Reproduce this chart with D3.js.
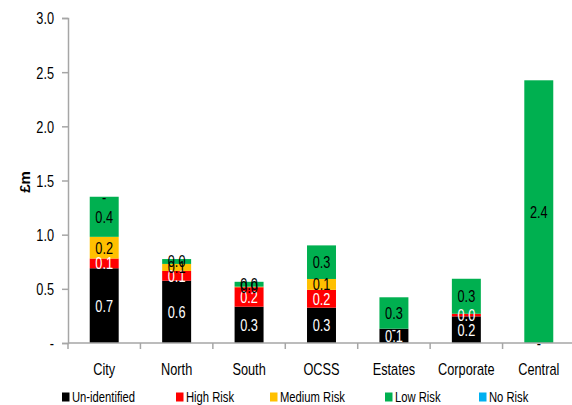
<!DOCTYPE html>
<html><head><meta charset="utf-8">
<script src="https://cdn.jsdelivr.net/npm/d3@7"></script>
<style>body{margin:0;background:#fff}svg{display:block}text{font-family:"Liberation Sans",Arial,sans-serif}</style>
</head><body>
<svg id="c" width="572" height="405"></svg>
<script>
const categories = ["City","North","South","OCSS","Estates","Corporate","Central"];
const seriesNames = ["Un-identified","High Risk","Medium Risk","Low Risk","No Risk"];
const unidentified = [0.69, 0.575, 0.335, 0.326, 0.132, 0.246, null];
const highRisk     = [0.09, 0.09, 0.18, 0.165, 0, 0.024, null];
const mediumRisk   = [0.20, 0.065, 0.005, 0.10, null, null, 0];
const lowRisk      = [0.37, 0.045, 0.045, 0.31, 0.29, 0.323, 2.425];
const noRisk       = [0, null, null, null, null, null, null];
const yTicks = [0, 0.5, 1.0, 1.5, 2.0, 2.5, 3.0];
const colors = ["#000000","#FF0000","#FFC000","#00B050","#00B0F0"];
const labelColors = ["#fff","#fff","#000","#000","#000"];
const seriesValues = [unidentified, highRisk, mediumRisk, lowRisk, noRisk];

const SX = 0.75; // horizontal condensing of text
const svg = d3.select("#c");
const pLeft = 68, pRight = 575, pTop = 18, pBottom = 343;
const x = d3.scaleBand().domain(categories).range([pLeft, pRight]).paddingInner(0.6).paddingOuter(0.3);
const y = d3.scaleLinear().domain([0, 3]).range([pBottom, pTop]);
const axisColor = "#a6a6a6";
const fmt = v => v === 0 ? "-" : d3.format(".1f")(v);

function label(g, tx, ty, str, size, anchor, fill) {
  return g.append("text").attr("transform", `translate(${tx},${ty}) scale(${SX},1)`)
    .attr("text-anchor", anchor).attr("dy", "0.35em").attr("font-size", size)
    .attr("fill", fill || "#000").text(str);
}

// y axis
const ya = svg.append("g").attr("transform", `translate(${pLeft},0)`)
  .call(d3.axisLeft(y).tickValues(yTicks).tickSize(6).tickFormat(fmt));
ya.select(".domain").attr("stroke", axisColor).attr("stroke-width", 1.5);
ya.selectAll(".tick line").attr("stroke", axisColor).attr("stroke-width", 1.5);
ya.selectAll(".tick text").attr("font-size", 17).attr("fill", "#000")
  .attr("x", -14 / SX).attr("dy", "0.35em").attr("transform", `scale(${SX},1)`)
  .style("font-family", '"Liberation Sans",Arial,sans-serif');

svg.append("text").attr("transform", `translate(25,182) rotate(-90)`)
  .attr("text-anchor", "middle").attr("dy", "0.35em").attr("font-size", 15)
  .attr("font-weight", "bold").text("£m");

// stacked bars
const barsG = svg.append("g");
const labelsG = svg.append("g");
categories.forEach((cat, i) => {
  let base = 0;
  seriesValues.forEach((arr, s) => {
    const v = arr[i];
    if (v === null) return;
    const y0 = y(base), y1 = y(base + v);
    if (v > 0) {
      barsG.append("rect").attr("x", x(cat)).attr("width", x.bandwidth())
        .attr("y", y1).attr("height", y0 - y1).attr("fill", colors[s]);
    }
    label(labelsG, x(cat) + x.bandwidth()/2, (y0 + y1)/2, fmt(v), 17, "middle", labelColors[s]);
    base += v;
  });
});

// x axis
const xa = svg.append("g").attr("transform", `translate(0,${pBottom})`);
xa.append("line").attr("x1", pLeft).attr("x2", 572).attr("stroke", axisColor).attr("stroke-width", 1.5);
const step = x.step();
d3.range(categories.length + 1).forEach(k => {
  const xx = pLeft + k * step;
  xa.append("line").attr("x1", xx).attr("x2", xx).attr("y1", 0).attr("y2", 6)
    .attr("stroke", axisColor).attr("stroke-width", 1.5);
});
categories.forEach(c => label(xa, x(c) + x.bandwidth()/2, 26, c, 17, "middle"));

// legend
const legendX = [62, 176, 270, 385, 479];
const lg = svg.append("g").attr("transform", "translate(0,397)");
seriesNames.forEach((n, s) => {
  lg.append("rect").attr("x", legendX[s]).attr("y", -4.5).attr("width", 7.5).attr("height", 9).attr("fill", colors[s]);
  label(lg, legendX[s] + 10, 0, n, 15, "start");
});
</script>
</body></html>
